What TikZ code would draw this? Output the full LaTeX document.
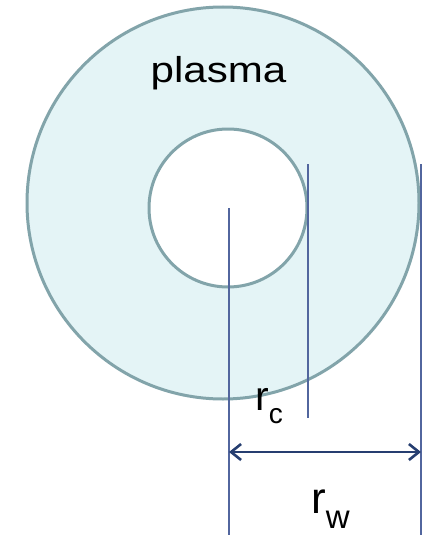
\documentclass[tikz,border=0pt]{standalone}
\usepackage{fontspec}
\setmainfont{Liberation Sans}
\usetikzlibrary{arrows.meta}
\definecolor{plasmafill}{RGB}{228,244,246}
\definecolor{ringline}{RGB}{130,164,170}
\definecolor{guide}{RGB}{82,102,158}
\definecolor{arrowc}{RGB}{38,62,112}
\begin{document}
\begin{tikzpicture}[x=1pt,y=-1pt,
  ring/.style={draw=ringline, line width=3pt},
  guideline/.style={draw=guide, line width=1.4pt},
  dimarrow/.style={draw=arrowc, line width=2pt, {Straight Barb[length=10pt,width=16pt,line width=2.6pt]}-{Straight Barb[length=10pt,width=16pt,line width=2.6pt]}},
  lbl/.style={inner sep=0pt, text=black}]
\useasboundingbox (0,0) rectangle (422,535);
\fill[white] (0,0) rectangle (422,535);
\draw[ring, fill=plasmafill] (223,203) circle (196pt);
\draw[ring, fill=white] (228,208) circle (79pt);
\coordinate (c0) at (229,208);
\coordinate (c1) at (229,535);
\coordinate (rc0) at (308,164);
\coordinate (rc1) at (308,418);
\coordinate (rw0) at (421,164);
\coordinate (rw1) at (421,535);
\coordinate (a0) at (229,452);
\coordinate (a1) at (421,452);
\draw[guideline] (c0) -- (c1);
\draw[guideline] (rc0) -- (rc1);
\draw[guideline] (rw0) -- (rw1);
\draw[dimarrow] (a0) -- (a1);
\node[lbl, anchor=base] (plasma) at (218.5,82) {\scalebox{1.17}[1]{\fontsize{36}{40}\selectfont plasma}};
\node[lbl, anchor=base west] (rc) at (255,410) {\fontsize{41}{44}\selectfont r\raisebox{-13pt}{\fontsize{28}{30}\selectfont c}};
\node[lbl, anchor=base west] (rw) at (311,513) {\fontsize{44}{47}\selectfont r\raisebox{-15pt}{\fontsize{33}{36}\selectfont w}};
\end{tikzpicture}
\end{document}
